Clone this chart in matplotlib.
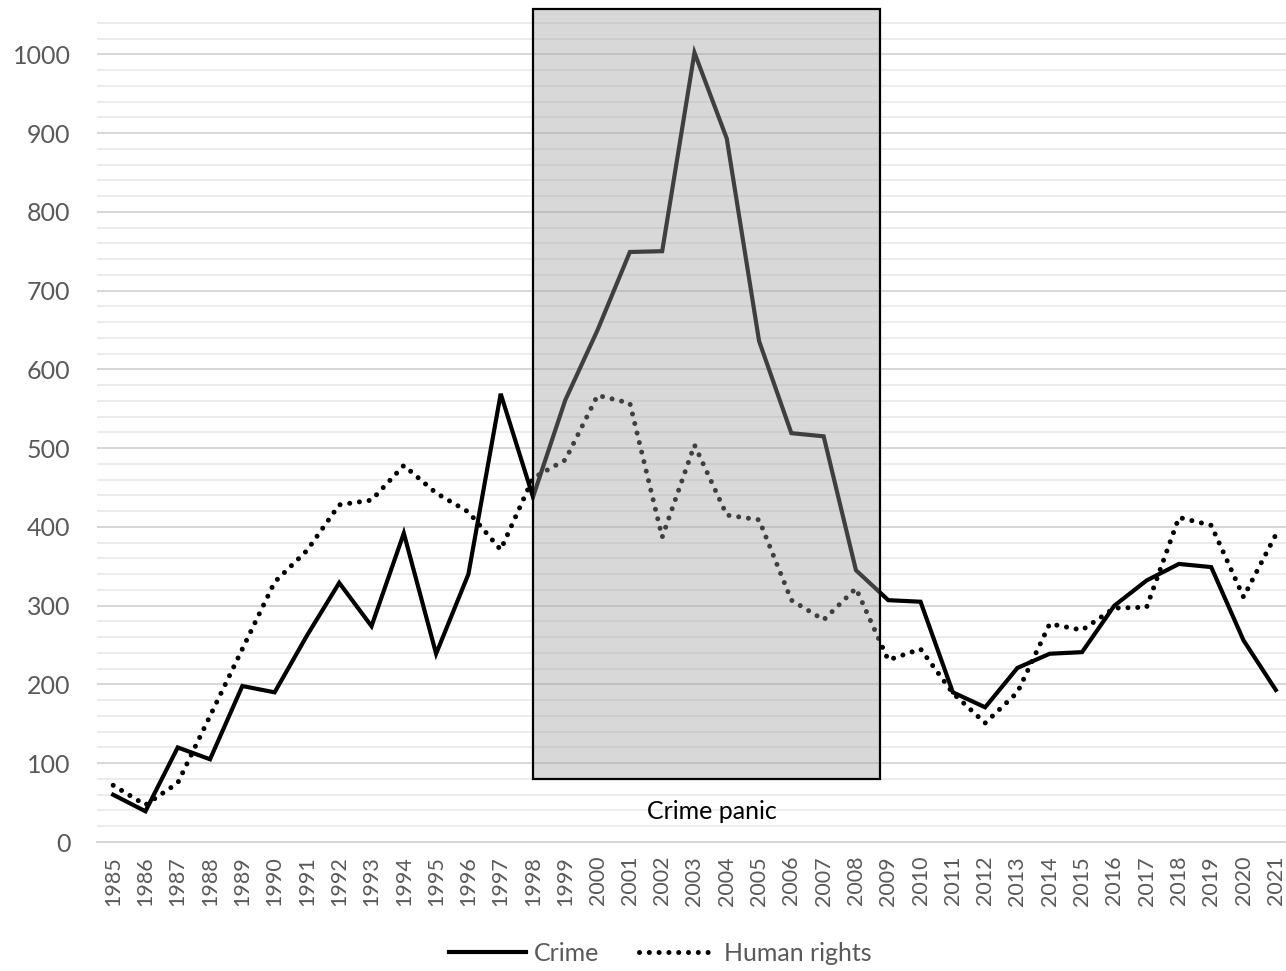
import numpy as np
import matplotlib.pyplot as plt
from matplotlib.patches import Rectangle

# !Data
years = list(range(1985, 2022))
crime = [60, 39, 120, 105, 198, 190, 262, 329, 274, 392, 239, 340, 569, 438,
         561, 650, 749, 750, 1002, 893, 636, 519, 515, 345, 307, 305, 190, 171,
         221, 239, 241, 300, 332, 353, 349, 256, 193]
human_rights = [72, 47, 75, 160, 245, 330, 370, 428, 434, 478, 443, 419, 371, 462,
                485, 567, 557, 387, 504, 415, 409, 307, 282, 322, 231, 245, 189, 151,
                190, 277, 269, 297, 298, 412, 402, 311, 390]
panic_start, panic_end = 1998, 2008.75
panic_label = "Crime panic"

plt.rcParams["font.family"] = ["Lato", "DejaVu Sans"]

fig = plt.figure(figsize=(12.86, 9.71), dpi=100)
ax = fig.add_axes([97 / 1286, 1 - 842 / 971, 1 - 97 / 1286, (842 - 7) / 971])

x = np.arange(len(years))
ax.plot(x, crime, color="black", lw=3, label="Crime", zorder=3,
        solid_joinstyle="miter")
ax.plot(x, human_rights, color="black", lw=3.6, label="Human rights", zorder=3,
        linestyle=(0, (0.01, 1.95)), dash_capstyle="round")

# grid
ax.set_ylim(0, 1060)
ax.set_xlim(-0.5, (1286 - 113) / 32.3)
ax.set_yticks(np.arange(0, 1001, 100))
ax.set_yticks(np.arange(0, 1041, 20), minor=True)
ax.grid(axis="y", which="minor", color="#ebebeb", lw=1.3)
ax.grid(axis="y", which="major", color="#d4d4d4", lw=1.3)
ax.set_axisbelow(True)
for s in ["top", "right", "left"]:
    ax.spines[s].set_visible(False)
ax.spines["bottom"].set_color("#d4d4d4")
ax.spines["bottom"].set_linewidth(1.3)

ax.set_xticks(x)
ax.set_xticklabels([str(y) for y in years], rotation=90)
ax.tick_params(axis="x", length=0, pad=10, labelsize=15.5, labelcolor="#595959")
ax.tick_params(axis="y", which="both", length=0, pad=19, labelsize=18,
               labelcolor="#595959")

# crime panic box
i0 = years.index(panic_start)
i1 = i0 + (panic_end - panic_start)
rect = Rectangle((i0, 80), i1 - i0, 978, facecolor=(0.625, 0.625, 0.625, 0.4),
                 edgecolor="black", lw=1.6, zorder=4, clip_on=False)
ax.add_patch(rect)
ax.text((i0 + i1) / 2 + 0.15, 39, panic_label, ha="center", va="center",
        fontsize=18, color="black")

fig.legend(loc="center", bbox_to_anchor=(660 / 1286, 1 - 953 / 971), ncol=2,
           frameon=False, fontsize=18, handlelength=3.1, columnspacing=1.6,
           handletextpad=0.3, labelcolor="#595959")

fig.savefig("out.png", dpi=100)
